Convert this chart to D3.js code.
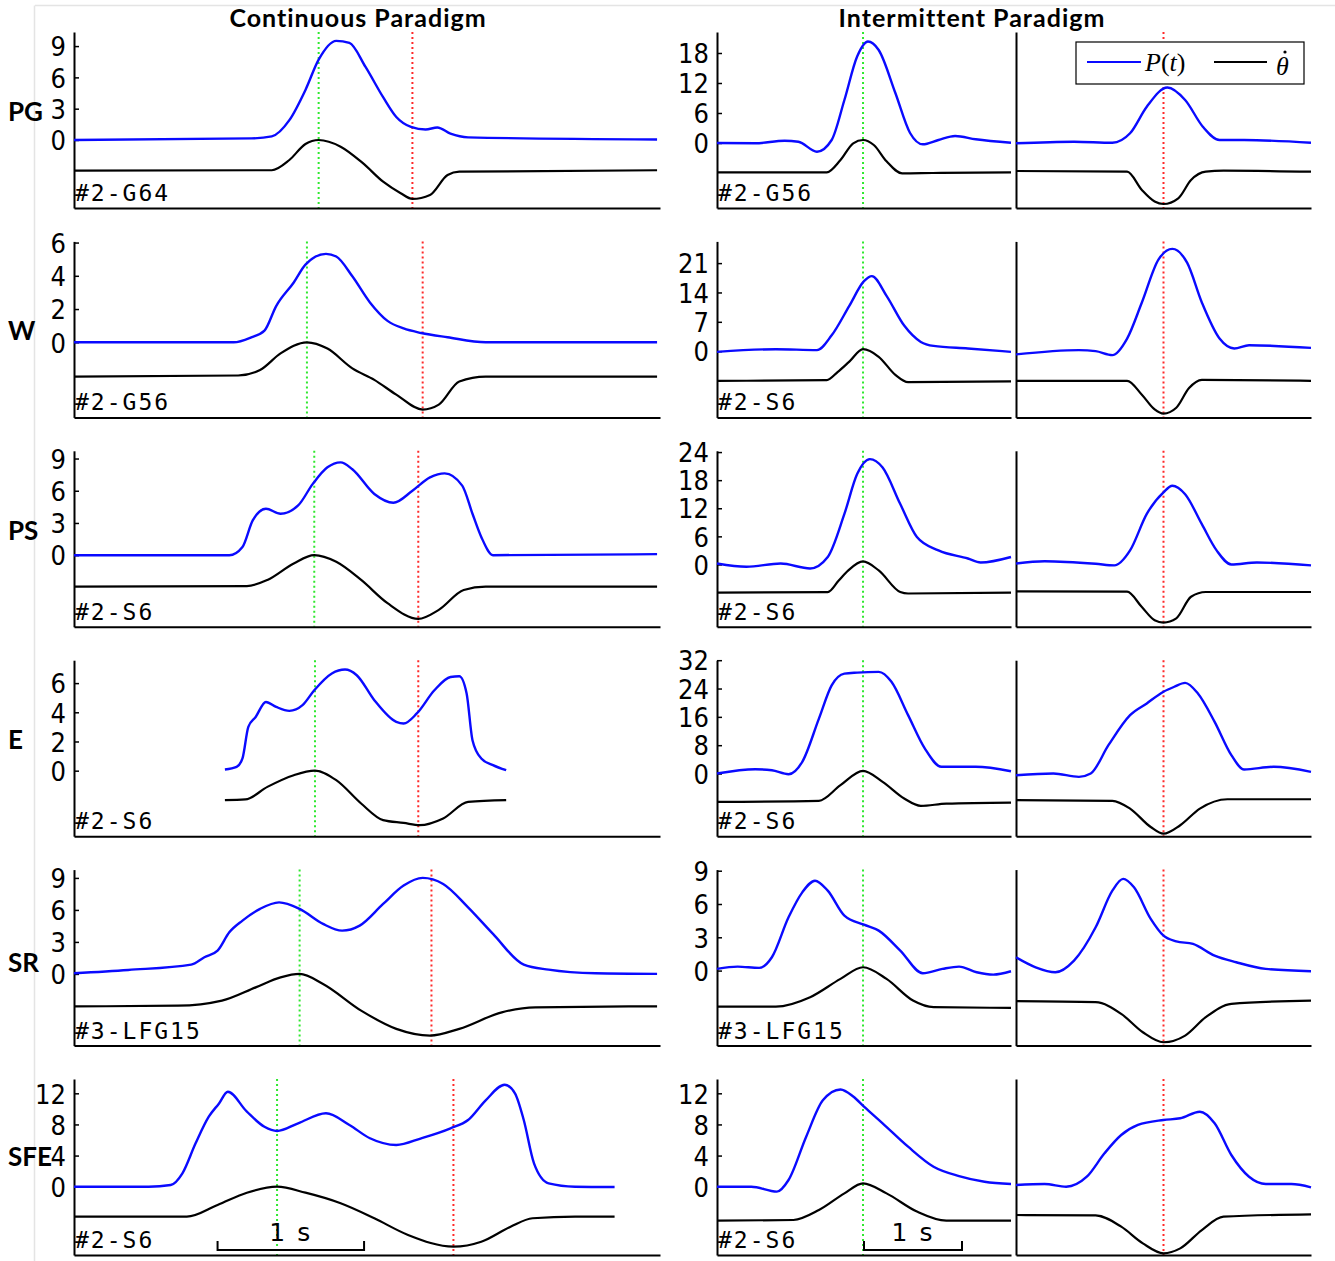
<!DOCTYPE html>
<html><head><meta charset="utf-8">
<script src="https://cdn.jsdelivr.net/npm/d3@7"></script>
<style>body{margin:0;background:#fff}svg{display:block}</style>
</head><body>
<svg id="c" width="1335" height="1261"></svg>
<script>
// ---------------- DATA ----------------
const columnTitles = ["Continuous Paradigm", "Intermittent Paradigm"];
const rowLabels = ["PG", "W", "PS", "E", "SR", "SFE"];
const contIds = ["#2-G64", "#2-G56", "#2-S6", "#2-S6", "#3-LFG15", "#2-S6"];
const intIds  = ["#2-G56", "#2-S6", "#2-S6", "#2-S6", "#3-LFG15", "#2-S6"];
const contTicks = [[0,3,6,9],[0,2,4,6],[0,3,6,9],[0,2,4,6],[0,3,6,9],[0,4,8,12]];
const intTicks  = [[0,6,12,18],[0,7,14,21],[0,6,12,18,24],[0,8,16,24,32],[0,3,6,9],[0,4,8,12]];
const contDomains = [[-6.52,10.35],[-4.52,6.07],[-6.67,9.72],[-4.49,7.57],[-6.72,9.78],[-8.78,13.84]];
const intDomains  = [[-13.0,22.2],[-15.8,26.18],[-13.31,24.27],[-17.7,32.0],[-6.76,9.1],[-8.78,13.84]];
// marker times (s): green = peak, red = trough
const contGreen = [1.67, 1.59, 1.64, 1.645, 1.54, 1.386];
const contRed   = [2.31, 2.38, 2.35, 2.35, 2.44, 2.59];
const intGreen  = [1.49, 1.49, 1.49, 1.49, 1.49, 1.49];
const intRed    = [1.50, 1.50, 1.50, 1.50, 1.50, 1.50];
const legendLabels = ["P(t)", "θ"];
const scaleBarLabel = "1 s";

// PG
const pgContBlue = [[0,0],[1.21,0.15],[1.35,0.35],[1.47,1.9],[1.58,4.8],[1.67,7.7],[1.79,9.5],[1.88,9.3],[1.99,7.0],[2.11,4.1],[2.20,2.2],[2.30,1.25],[2.40,1.0],[2.48,1.2],[2.57,0.6],[2.69,0.25],[3.98,0.05]];
const pgContBlack = [[0,-2.94],[1.35,-2.9],[1.47,-1.92],[1.58,-0.38],[1.67,0],[1.82,-0.64],[1.97,-2.2],[2.11,-4.0],[2.23,-5.1],[2.31,-5.65],[2.43,-5.27],[2.55,-3.36],[2.63,-3.04],[3.98,-2.9]];
const pgOnBlue = [[0,0],[0.39,-0.06],[0.69,0.46],[0.83,0.26],[1.02,-1.74],[1.17,0.6],[1.30,8.6],[1.43,17.3],[1.54,20.3],[1.65,18.6],[1.82,10.0],[1.97,2.0],[2.10,-0.26],[2.26,0.6],[2.43,1.4],[2.64,0.74],[3.0,0.06]];
const pgOnBlack = [[0,-5.87],[1.12,-5.87],[1.26,-3.4],[1.39,-0.06],[1.49,0.6],[1.60,-0.4],[1.73,-3.67],[1.89,-6.07],[2.2,-6.0],[3.0,-5.87]];
const pgOffBlue = [[0,-0.06],[0.59,0.26],[0.98,0.06],[1.16,1.94],[1.33,7.26],[1.54,11.1],[1.72,8.6],[1.90,3.26],[2.07,0.6],[2.32,0.6],[3.0,0.06]];
const pgOffBlack = [[0,-5.6],[1.13,-5.74],[1.28,-9.4],[1.41,-11.7],[1.50,-12.2],[1.65,-11.06],[1.78,-7.4],[1.93,-5.74],[2.11,-5.54],[3.0,-5.74]];
// W
const wContBlue = [[0,0],[1.09,0],[1.21,0.3],[1.30,0.7],[1.38,2.18],[1.50,3.6],[1.58,4.67],[1.72,5.32],[1.79,5.16],[1.90,3.97],[2.02,2.4],[2.14,1.29],[2.25,0.83],[2.37,0.56],[2.55,0.3],[2.81,0],[3.98,0]];
const wContBlack = [[0,-2.07],[1.12,-2.0],[1.27,-1.67],[1.41,-0.67],[1.59,0],[1.73,-0.38],[1.90,-1.57],[2.05,-2.26],[2.20,-3.15],[2.38,-4.05],[2.49,-3.75],[2.63,-2.36],[2.81,-2.07],[3.98,-2.07]];
const wOnBlue = [[0,-0.16],[0.60,0.47],[1.02,0.24],[1.17,3.77],[1.35,10.8],[1.50,16.7],[1.58,17.9],[1.73,13.2],[1.91,6.1],[2.08,2.2],[2.21,1.25],[2.56,0.64],[3.0,-0.16]];
const wOnBlack = [[0,-7.08],[1.12,-6.9],[1.23,-5.0],[1.35,-2.5],[1.49,0.47],[1.65,-1.34],[1.82,-5.66],[1.95,-7.4],[3.0,-7.2]];
const wOffBlue = [[0,-0.78],[0.64,0.24],[0.81,0],[0.98,-0.94],[1.13,3.0],[1.28,11.6],[1.45,21.9],[1.59,24.4],[1.74,21.1],[1.89,11.6],[2.07,3.0],[2.22,0.64],[2.37,1.42],[3.0,0.78]];
const wOffBlack = [[0,-7.08],[1.13,-7.08],[1.28,-10.4],[1.41,-13.9],[1.50,-14.9],[1.63,-13.5],[1.76,-8.8],[1.89,-6.84],[3.0,-7.08]];
// PS
const psContBlue = [[0,0],[1.06,0],[1.15,0.77],[1.22,3.24],[1.31,4.32],[1.41,3.86],[1.53,4.63],[1.63,6.64],[1.73,8.18],[1.82,8.64],[1.90,8.0],[2.05,5.7],[2.18,4.88],[2.31,6.0],[2.43,7.24],[2.53,7.62],[2.65,6.48],[2.72,3.86],[2.78,1.7],[2.86,0],[3.98,0.1]];
const psContBlack = [[0,-2.93],[1.18,-2.88],[1.32,-2.31],[1.50,-0.77],[1.64,0],[1.79,-0.62],[1.96,-2.31],[2.14,-4.47],[2.35,-5.93],[2.49,-5.09],[2.66,-3.24],[2.81,-2.93],[3.98,-2.93]];
const psOnBlue = [[0,0.2],[0.30,-0.5],[0.65,0.2],[0.95,-0.85],[1.13,1.6],[1.30,10.8],[1.43,19.3],[1.56,22.5],[1.69,20.7],[1.87,12.9],[2.04,5.86],[2.26,3.0],[2.56,1.27],[2.69,0.42],[3.0,1.6]];
const psOnBlack = [[0,-6.0],[1.13,-5.9],[1.24,-3.5],[1.34,-1.27],[1.49,0.64],[1.65,-1.27],[1.87,-5.88],[1.95,-6.2],[3.0,-6.0]];
const psOffBlue = [[0,0.2],[0.29,0.7],[0.81,0.15],[1.0,-0.2],[1.16,3.0],[1.33,10.8],[1.50,15.4],[1.59,16.8],[1.72,15.0],[1.89,8.6],[2.04,3.0],[2.19,0],[2.45,0.42],[3.0,-0.2]];
const psOffBlack = [[0,-5.73],[1.13,-5.8],[1.28,-9.1],[1.41,-11.9],[1.50,-12.4],[1.63,-11.5],[1.78,-6.9],[1.93,-5.88],[3.0,-5.88]];
// E
const eContBlue = [[1.03,0.08],[1.11,0.26],[1.15,0.84],[1.19,3.0],[1.24,3.68],[1.31,4.71],[1.38,4.37],[1.47,4.1],[1.56,4.49],[1.64,5.51],[1.76,6.66],[1.85,6.93],[1.93,6.54],[2.05,4.83],[2.20,3.34],[2.25,3.23],[2.34,3.92],[2.46,5.51],[2.57,6.42],[2.63,6.47],[2.68,5.29],[2.72,2.09],[2.78,0.84],[2.86,0.38],[2.95,0.03]];
const eContBlack = [[1.03,-2.02],[1.17,-1.97],[1.32,-1.11],[1.50,-0.31],[1.645,0],[1.79,-0.65],[1.96,-2.25],[2.11,-3.39],[2.25,-3.58],[2.36,-3.73],[2.52,-3.27],[2.69,-2.14],[2.95,-2.02]];
const eOnBlue = [[0,0],[0.39,1.2],[0.56,0.93],[0.73,-0.2],[0.87,3.3],[1.04,15.5],[1.17,24.9],[1.30,28.2],[1.43,28.5],[1.65,28.7],[1.78,25.9],[1.95,16.5],[2.12,7.1],[2.29,1.9],[2.64,1.9],[3.0,0.65]];
const eOnBlack = [[0,-8.0],[1.04,-7.7],[1.26,-3.3],[1.49,0.74],[1.69,-2.37],[1.91,-7.06],[2.08,-9.15],[2.34,-8.5],[3.0,-8.2]];
const eOffBlue = [[0,-0.47],[0.38,0],[0.64,-0.94],[0.76,0],[0.94,8.0],[1.16,16.5],[1.33,19.8],[1.50,23.1],[1.61,24.5],[1.72,25.6],[1.85,22.6],[2.02,14.6],[2.19,5.2],[2.32,1.13],[2.62,1.9],[3.0,0.47]];
const eOffBlack = [[0,-7.54],[0.98,-7.7],[1.16,-9.9],[1.37,-15.1],[1.50,-17.0],[1.67,-14.6],[1.87,-9.9],[2.15,-7.26],[3.0,-7.26]];
// SR
const srContBlue = [[0,0.06],[0.37,0.37],[0.80,0.87],[0.89,1.56],[0.98,2.18],[1.06,3.9],[1.15,5.0],[1.27,6.1],[1.40,6.71],[1.54,6.1],[1.70,4.69],[1.83,4.06],[1.95,4.53],[2.11,6.56],[2.25,8.28],[2.38,9.0],[2.52,8.43],[2.69,6.24],[2.86,3.75],[3.07,0.87],[3.24,0.4],[3.56,0.06],[3.98,0]];
const srContBlack = [[0,-3.04],[0.71,-2.98],[1.01,-2.5],[1.24,-1.26],[1.41,-0.32],[1.54,0],[1.70,-0.94],[1.96,-3.44],[2.20,-5.15],[2.43,-5.78],[2.63,-5.15],[2.92,-3.6],[3.15,-3.13],[3.98,-3.04]];
const srOnBlue = [[0,0.15],[0.21,0.36],[0.43,0.24],[0.56,1.2],[0.73,4.8],[0.87,7.05],[1.0,8.1],[1.13,7.2],[1.30,4.95],[1.50,4.14],[1.65,3.6],[1.87,1.8],[2.10,-0.24],[2.30,0.15],[2.47,0.36],[2.65,-0.15],[2.82,-0.36],[3.0,-0.06]];
const srOnBlack = [[0,-3.25],[0.60,-3.25],[0.95,-2.4],[1.26,-0.75],[1.49,0.3],[1.73,-0.75],[2.0,-2.7],[2.21,-3.3],[3.0,-3.36]];
const srOffBlue = [[0,1.2],[0.20,0.3],[0.40,-0.15],[0.59,0.9],[0.81,3.9],[0.98,7.2],[1.09,8.26],[1.20,7.5],[1.37,4.66],[1.50,3.15],[1.63,2.64],[1.80,2.4],[2.02,1.35],[2.24,0.75],[2.54,0.15],[3.0,-0.06]];
const srOffBlack = [[0,-2.76],[0.81,-2.85],[1.07,-3.9],[1.29,-5.56],[1.50,-6.46],[1.72,-5.86],[1.93,-4.2],[2.19,-3.0],[3.0,-2.7]];
// SFE
const sfeContBlue = [[0,0],[0.51,0],[0.66,0.22],[0.74,1.72],[0.83,5.58],[0.92,9.0],[0.99,10.7],[1.05,12.2],[1.18,9.64],[1.30,7.7],[1.386,7.16],[1.53,8.15],[1.72,9.43],[1.88,7.93],[2.02,6.22],[2.20,5.36],[2.37,6.22],[2.57,7.5],[2.69,8.57],[2.81,11.1],[2.94,13.1],[3.01,12.0],[3.07,8.57],[3.14,3.0],[3.24,0.43],[3.42,0],[3.69,-0.05]];
const sfeContBlack = [[0,-3.86],[0.77,-3.86],[0.98,-2.35],[1.18,-0.77],[1.386,0],[1.58,-0.77],[1.82,-2.13],[2.05,-4.06],[2.28,-6.2],[2.59,-7.7],[2.78,-7.07],[2.98,-5.14],[3.13,-4.06],[3.42,-3.86],[3.69,-3.86]];
const sfeOnBlue = [[0,0],[0.35,0],[0.61,-0.64],[0.73,0.86],[0.91,6.43],[1.08,11.1],[1.26,12.5],[1.39,11.6],[1.50,10.3],[1.69,8.15],[1.95,5.14],[2.21,2.57],[2.47,1.37],[2.73,0.64],[3.0,0.34]];
const sfeOnBlack = [[0,-4.37],[0.78,-4.28],[1.04,-3.0],[1.30,-0.86],[1.49,0.43],[1.73,-0.86],[2.04,-3.2],[2.34,-4.37],[3.0,-4.37]];
const sfeOffBlue = [[0,0.22],[0.29,0.34],[0.51,0],[0.72,1.28],[0.90,4.29],[1.07,6.64],[1.24,7.93],[1.50,8.57],[1.67,8.79],[1.87,9.64],[2.02,8.15],[2.19,4.07],[2.37,1.28],[2.54,0.34],[2.80,0.34],[3.0,-0.08]];
const sfeOffBlack = [[0,-3.64],[0.81,-3.7],[1.07,-5.14],[1.29,-7.28],[1.50,-8.56],[1.67,-7.93],[1.89,-5.57],[2.11,-3.86],[3.0,-3.55]];
// scale bars (s)
const contScaleBar = [0.98, 1.98];
const intScaleBar = [1.50, 2.50];

const contBlue  = [pgContBlue, wContBlue, psContBlue, eContBlue, srContBlue, sfeContBlue];
const contBlack = [pgContBlack, wContBlack, psContBlack, eContBlack, srContBlack, sfeContBlack];
const onBlue  = [pgOnBlue, wOnBlue, psOnBlue, eOnBlue, srOnBlue, sfeOnBlue];
const onBlack = [pgOnBlack, wOnBlack, psOnBlack, eOnBlack, srOnBlack, sfeOnBlack];
const offBlue  = [pgOffBlue, wOffBlue, psOffBlue, eOffBlue, srOffBlue, sfeOffBlue];
const offBlack = [pgOffBlack, wOffBlack, psOffBlack, eOffBlack, srOffBlack, sfeOffBlack];

// ---------------- DRAW ----------------
const svg = d3.select("#c");
svg.append("rect").attr("width",1335).attr("height",1261).attr("fill","#fff");
// faint frame
svg.append("line").attr("x1",35).attr("x2",1335).attr("y1",5.5).attr("y2",5.5).attr("stroke","#e4e4e4").attr("stroke-width",1.5);
svg.append("line").attr("x1",34.5).attr("x2",34.5).attr("y1",5.5).attr("y2",1261).attr("stroke","#e4e4e4").attr("stroke-width",1.5);

const BLUE = "#0a0aff", GREEN = "#2fe82f", RED = "#ff2a2a";
const tickFont = "'Liberation Sans Narrow','DejaVu Sans Condensed','Arial Narrow',sans-serif";
const boldFont = "Lato, 'Open Sans', sans-serif";
const monoFont = "'DejaVu Sans Mono','Liberation Mono',monospace";

const cols = [
  {x0:74,  x1:660,  tMax:4},
  {x0:717, x1:1011, tMax:3},
  {x0:1016,x1:1311, tMax:3}
];
const rowTop = i => 32 + i*209.4;
const rowH = 176;
const labelOffsets = [80, 90, 80, 80, 93, 78];

const line = (x,y) => d3.line().x(d=>x(d[0])).y(d=>y(d[1])).curve(d3.curveMonotoneX);

// column titles
[[columnTitles[0],358],[columnTitles[1],972]].forEach(([t,cx])=>{
  svg.append("text").attr("x",cx).attr("y",27).attr("text-anchor","middle")
    .attr("font-family",boldFont).attr("font-weight","bold").attr("font-size",25)
    .attr("letter-spacing",1).text(t);
});

rowLabels.forEach((lab,i)=>{
  const top = rowTop(i), bot = top + rowH;
  svg.append("text").attr("x",8).attr("y",top+labelOffsets[i]+9)
    .attr("font-family",boldFont).attr("font-weight","bold").attr("font-size",26).text(lab);

  cols.forEach((c,ci)=>{
    const x = d3.scaleLinear().domain([0,c.tMax]).range([c.x0,c.x1]);
    const y = d3.scaleLinear().domain(ci===0?contDomains[i]:intDomains[i]).range([bot,top]);
    const g = svg.append("g");
    // marker lines
    const marks = ci===0 ? [[contGreen[i],GREEN],[contRed[i],RED]] : ci===1 ? [[intGreen[i],GREEN]] : [[intRed[i],RED]];
    marks.forEach(([t,col])=>{
      g.append("line").attr("x1",x(t)).attr("x2",x(t)).attr("y1",top).attr("y2",bot)
        .attr("stroke",col).attr("stroke-width",2).attr("stroke-dasharray","2,3");
    });
    // y axis
    const ya = d3.axisLeft(y).tickSizeOuter(0).tickSizeInner(-5).tickPadding(8);
    if (ci===2) ya.tickValues([]); else ya.tickValues(ci===0?contTicks[i]:intTicks[i]).tickFormat(d3.format("d"));
    const yg = g.append("g").attr("transform",`translate(${c.x0},0)`).call(ya);
    yg.select(".domain").attr("stroke","#000").attr("stroke-width",2);
    yg.selectAll(".tick line").attr("stroke","#000").attr("stroke-width",1.5);
    yg.selectAll(".tick text").attr("font-family",tickFont).attr("font-size",27).attr("fill","#000").attr("dy","0.36em");
    // x axis (plain line)
    const xa = d3.axisBottom(x).tickValues([]).tickSizeOuter(0);
    const xg = g.append("g").attr("transform",`translate(0,${bot})`).call(xa);
    xg.select(".domain").attr("stroke","#000").attr("stroke-width",2);
    // curves
    const blue = ci===0?contBlue[i]:ci===1?onBlue[i]:offBlue[i];
    const black = ci===0?contBlack[i]:ci===1?onBlack[i]:offBlack[i];
    g.append("path").attr("d",line(x,y)(black)).attr("fill","none").attr("stroke","#000").attr("stroke-width",2.2);
    g.append("path").attr("d",line(x,y)(blue)).attr("fill","none").attr("stroke",BLUE).attr("stroke-width",2.4);
    // ids
    if (ci<2) {
      g.append("text").attr("x",c.x0+1).attr("y",bot-7).attr("font-family",monoFont)
        .attr("font-size",23).attr("letter-spacing",2).text(ci===0?contIds[i]:intIds[i]);
    }
    // scale bars in last row
    if (i===5 && ci<2) {
      const sb = ci===0?contScaleBar:intScaleBar;
      const yb = bot - 5, xa0 = x(sb[0]), xa1 = x(sb[1]);
      g.append("path").attr("d",`M${xa0},${yb-9}V${yb}H${xa1}V${yb-9}`).attr("fill","none").attr("stroke","#000").attr("stroke-width",2);
      g.append("text").attr("x",(xa0+xa1)/2).attr("y",yb-9).attr("text-anchor","middle")
        .attr("font-family","'DejaVu Sans',sans-serif").attr("font-size",25).attr("letter-spacing",2).text(scaleBarLabel);
    }
  });
});

// legend
const lg = svg.append("g");
lg.append("rect").attr("x",1076).attr("y",42).attr("width",228).attr("height",42).attr("fill","#fff").attr("stroke","#000").attr("stroke-width",1.2);
lg.append("line").attr("x1",1087).attr("x2",1141).attr("y1",62).attr("y2",62).attr("stroke",BLUE).attr("stroke-width",2.2);
lg.append("line").attr("x1",1214).attr("x2",1267).attr("y1",62).attr("y2",62).attr("stroke","#000").attr("stroke-width",2.2);
const pt = lg.append("text").attr("x",1145).attr("y",71).attr("font-family","'Liberation Serif','DejaVu Serif',serif").attr("font-size",26);
pt.append("tspan").attr("font-style","italic").text("P");
pt.append("tspan").text("(");
pt.append("tspan").attr("font-style","italic").text("t");
pt.append("tspan").text(")");
lg.append("text").attr("x",1276).attr("y",75).attr("font-family","'Liberation Serif','DejaVu Serif',serif")
  .attr("font-style","italic").attr("font-size",26).text(legendLabels[1]);
// time-derivative dot accent over theta
lg.append("circle").attr("cx",1285).attr("cy",52).attr("r",1.6).attr("fill","#000");
</script>
</body></html>
